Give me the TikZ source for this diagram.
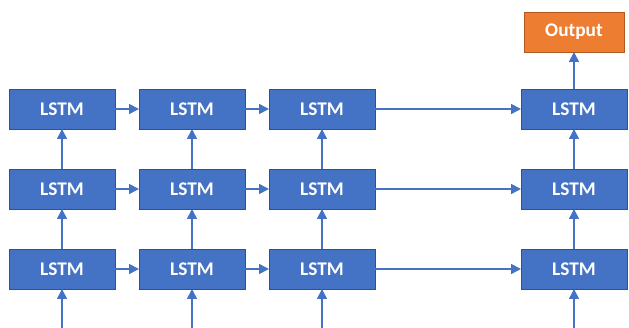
\documentclass[tikz,border=0pt]{standalone}
\usepackage{fontspec}
\setmainfont{Carlito}
\usepackage{tikz}
\usetikzlibrary{arrows.meta, positioning}
\definecolor{cellblue}{HTML}{4472C4}
\definecolor{celledge}{HTML}{2F528F}
\definecolor{outorange}{HTML}{ED7D31}
\definecolor{outedge}{HTML}{AE5A21}

\begin{document}
\begin{tikzpicture}[
    lstm/.style={draw=celledge, fill=cellblue, line width=0.5pt, rectangle, minimum width=2.12cm, minimum height=0.8cm, outer sep=0pt, text=white, font=\fontsize{11}{13}\selectfont\bfseries},
    outbox/.style={lstm, draw=outedge, fill=outorange, minimum width=2cm},
    flow/.style={draw=cellblue, line width=0.9pt, -{Triangle[length=0.2cm, width=0.2cm]}}
]
    \useasboundingbox (0,0) rectangle (12.58,6.56);

    % bottom row
    \node[lstm] (b1) at (1.24,1.18) {LSTM};
    \node[lstm, right=0.48cm of b1] (b2) {LSTM};
    \node[lstm, right=0.48cm of b2] (b3) {LSTM};
    \node[lstm, right=2.92cm of b3] (b4) {LSTM};

    % middle row
    \node[lstm, above=0.8cm of b1] (m1) {LSTM};
    \node[lstm, above=0.8cm of b2] (m2) {LSTM};
    \node[lstm, above=0.8cm of b3] (m3) {LSTM};
    \node[lstm, above=0.8cm of b4] (m4) {LSTM};

    % top row
    \node[lstm, above=0.8cm of m1] (t1) {LSTM};
    \node[lstm, above=0.8cm of m2] (t2) {LSTM};
    \node[lstm, above=0.8cm of m3] (t3) {LSTM};
    \node[lstm, above=0.8cm of m4] (t4) {LSTM};

    \node[outbox, above=0.74cm of t4] (out) {Output};

    % inputs
    \coordinate (i1) at (b1.south |- 0,0);
    \coordinate (i2) at (b2.south |- 0,0);
    \coordinate (i3) at (b3.south |- 0,0);
    \coordinate (i4) at (b4.south |- 0,0);
    \draw[flow] (i1) -- (b1);
    \draw[flow] (i2) -- (b2);
    \draw[flow] (i3) -- (b3);
    \draw[flow] (i4) -- (b4);

    % along each row
    \draw[flow] (b1) -- (b2);
    \draw[flow] (b2) -- (b3);
    \draw[flow] (b3) -- (b4);
    \draw[flow] (m1) -- (m2);
    \draw[flow] (m2) -- (m3);
    \draw[flow] (m3) -- (m4);
    \draw[flow] (t1) -- (t2);
    \draw[flow] (t2) -- (t3);
    \draw[flow] (t3) -- (t4);

    % up the stack
    \draw[flow] (b1) -- (m1);
    \draw[flow] (b2) -- (m2);
    \draw[flow] (b3) -- (m3);
    \draw[flow] (b4) -- (m4);
    \draw[flow] (m1) -- (t1);
    \draw[flow] (m2) -- (t2);
    \draw[flow] (m3) -- (t3);
    \draw[flow] (m4) -- (t4);
    \draw[flow] (t4) -- (out);
\end{tikzpicture}
\end{document}
